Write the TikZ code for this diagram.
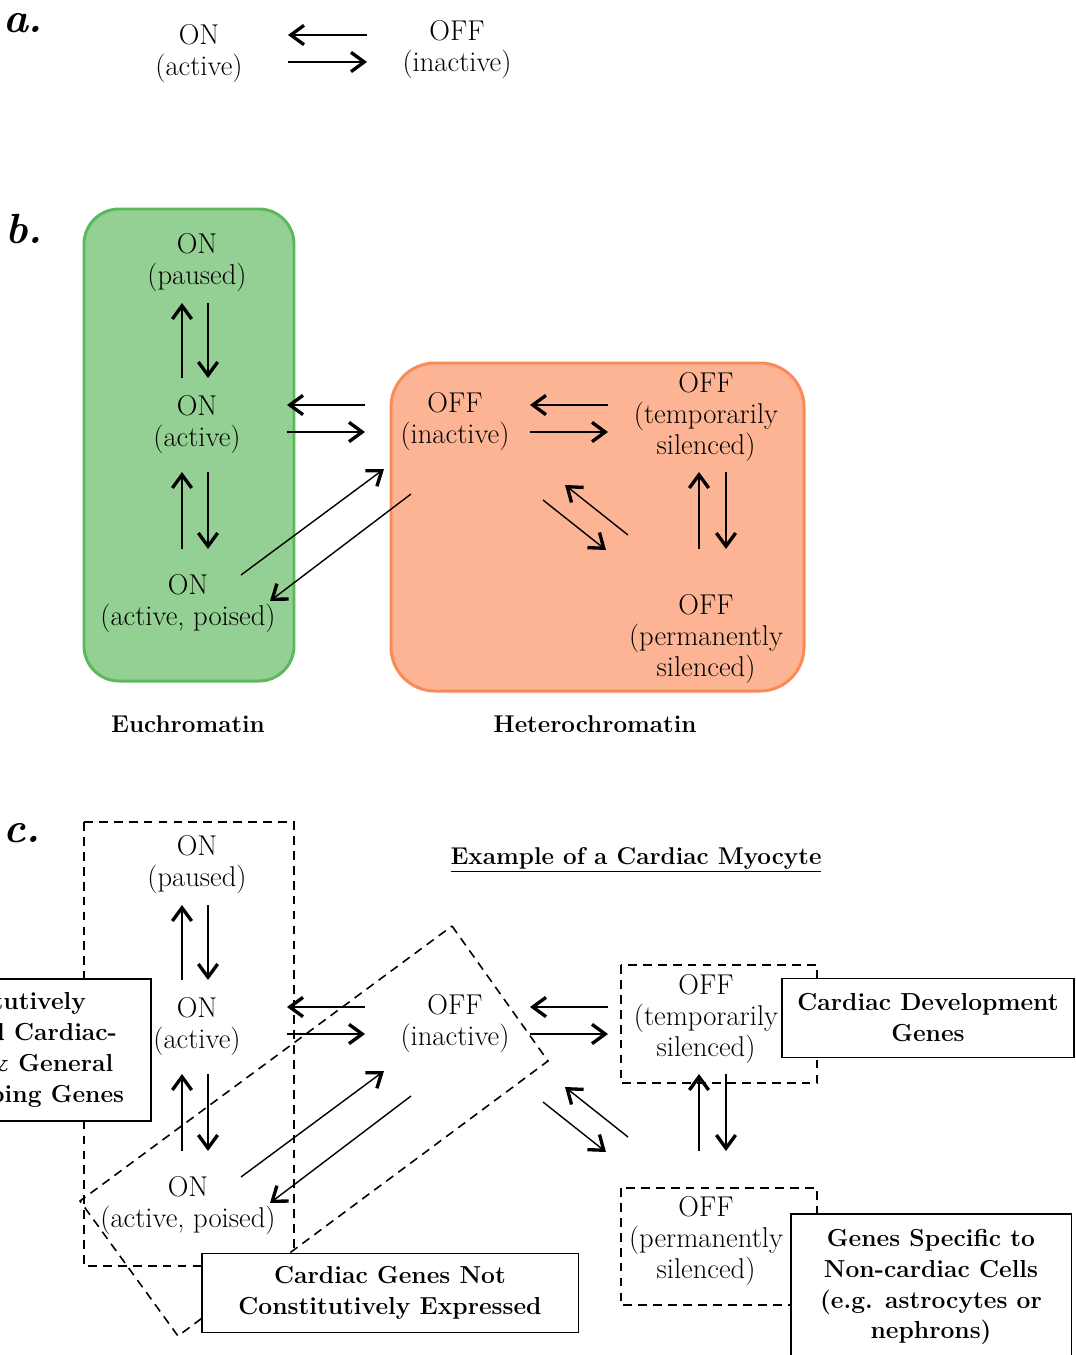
\documentclass[tikz,border=0pt]{standalone}
\usepackage{tikz}
\usetikzlibrary{arrows.meta, positioning, calc}

\definecolor{euchfill}{RGB}{148,208,148}
\definecolor{euchline}{RGB}{92,184,92}
\definecolor{hetfill}{RGB}{253,180,148}
\definecolor{hetline}{RGB}{250,138,88}

\begin{document}
\begin{tikzpicture}[
    x=0.02cm, y=-0.02cm,
    state/.style={
        align=center,
        inner sep=0pt,
        font=\fontsize{16.3}{17.6}\selectfont
    },
    title/.style={
        align=center,
        inner sep=0pt,
        font=\fontsize{13.8}{17.6}\selectfont\bfseries
    },
    genebox/.style={
        rectangle,
        draw,
        fill=white,
        line width=1.1pt,
        align=center,
        inner sep=0pt,
        font=\fontsize{14}{17.6}\selectfont\bfseries
    },
    panel/.style={
        inner sep=0pt,
        font=\fontsize{24}{28}\selectfont\bfseries\itshape
    },
    dashline/.style={dash pattern=on 5pt off 3.5pt, line width=0.9pt},
    arrow/.style={-{Straight Barb[length=7.5pt,width=11pt,line width=1.9pt]}, line width=0.8pt}
]

\useasboundingbox (0,0) rectangle (1075,1355);
\clip (0,0) rectangle (1075,1355);

% ============================================================
%  a.
% ============================================================
\node[panel] (la) at (23,23) {a.};

\node[state] (onacta) at (199,54) {ON\\(active)};
\node[state] (offina) at (457,50) {OFF\\(inactive)};

\draw[arrow] ($(offina)+(-90,-15)$) -- ($(onacta)+(89,-19)$);
\draw[arrow] ($(onacta)+(89,8)$) -- ($(offina)+(-90,12)$);

% ============================================================
%  b.
% ============================================================
\node[panel] (lb) at (24,229) {b.};

% --- Euchromatin / Heterochromatin ---
\draw[euchline, fill=euchfill, line width=1.7pt, rounded corners=20pt] (84,209) rectangle (294,681);
\draw[hetline, fill=hetfill, line width=1.7pt, rounded corners=25pt] (391,363) rectangle (804,691);

\node[title] (euchb) at (188,724) {Euchromatin};
\node[title] (hetb)  at (595,724) {Heterochromatin};

% --- states ---
\node[state] (onpaub)  at (197,263) {ON\\(paused)};
\node[state] (onactb)  at (197,425) {ON\\(active)};
\node[state] (onpoib)  at (188,604) {ON\\(active, poised)};
\node[state] (offinb)  at (455,422) {OFF\\(inactive)};
\node[state] (offtmpb) at (706,417) {OFF\\(temporarily\\silenced)};
\node[state] (offprmb) at (706,639) {OFF\\(permanently\\silenced)};

% --- ON (paused) <-> ON (active) ---
\draw[arrow] ($(onactb)+(-15,-47)$) -- ($(onpaub)+(-15,40)$);
\draw[arrow] ($(onpaub)+(11,40)$) -- ($(onactb)+(11,-47)$);

% --- ON (active) <-> ON (active, poised) ---
\draw[arrow] ($(onpoib)+(-6,-55)$) -- ($(onactb)+(-15,47)$);
\draw[arrow] ($(onactb)+(11,47)$) -- ($(onpoib)+(20,-55)$);

% --- ON (active) <-> OFF (inactive) ---
\draw[arrow] ($(offinb)+(-90,-17)$) -- ($(onactb)+(90,-20)$);
\draw[arrow] ($(onactb)+(90,7)$) -- ($(offinb)+(-90,10)$);

% --- ON (active, poised) <-> OFF (inactive) ---
\draw[arrow] ($(onpoib)+(53,-29)$) -- ($(offinb)+(-71,47)$);
\draw[arrow] ($(offinb)+(-44,72)$) -- ($(onpoib)+(82,-3)$);

% --- OFF (inactive) <-> OFF (temporarily silenced) ---
\draw[arrow] ($(offtmpb)+(-98,-12)$) -- ($(offinb)+(75,-17)$);
\draw[arrow] ($(offinb)+(75,10)$) -- ($(offtmpb)+(-98,15)$);

% --- OFF (inactive) <-> OFF (permanently silenced) ---
\draw[arrow] ($(offprmb)+(-78,-104)$) -- ($(offinb)+(110,63)$);
\draw[arrow] ($(offinb)+(88,78)$) -- ($(offprmb)+(-100,-89)$);

% --- OFF (temporarily) <-> OFF (permanently) ---
\draw[arrow] ($(offprmb)+(-7,-90)$) -- ($(offtmpb)+(-7,55)$);
\draw[arrow] ($(offtmpb)+(20,55)$) -- ($(offprmb)+(20,-90)$);

% ============================================================
%  c.
% ============================================================
\node[panel] (lc) at (22,833) {c.};
\node[title] (myocyte) at (636,860) {\underline{Example of a Cardiac Myocyte}};

% --- states ---
\node[state] (onpauc)  at (197,865)  {ON\\(paused)};
\node[state] (onactc)  at (197,1027) {ON\\(active)};
\node[state] (onpoic)  at (188,1206) {ON\\(active, poised)};
\node[state] (offinc)  at (455,1024) {OFF\\(inactive)};
\node[state] (offtmpc) at (706,1019) {OFF\\(temporarily\\silenced)};
\node[state] (offprmc) at (706,1241) {OFF\\(permanently\\silenced)};

% --- ON (paused) <-> ON (active) ---
\draw[arrow] ($(onactc)+(-15,-47)$) -- ($(onpauc)+(-15,40)$);
\draw[arrow] ($(onpauc)+(11,40)$) -- ($(onactc)+(11,-47)$);

% --- ON (active) <-> ON (active, poised) ---
\draw[arrow] ($(onpoic)+(-6,-55)$) -- ($(onactc)+(-15,47)$);
\draw[arrow] ($(onactc)+(11,47)$) -- ($(onpoic)+(20,-55)$);

% --- ON (active) <-> OFF (inactive) ---
\draw[arrow] ($(offinc)+(-90,-17)$) -- ($(onactc)+(90,-20)$);
\draw[arrow] ($(onactc)+(90,7)$) -- ($(offinc)+(-90,10)$);

% --- ON (active, poised) <-> OFF (inactive) ---
\draw[arrow] ($(onpoic)+(53,-29)$) -- ($(offinc)+(-71,47)$);
\draw[arrow] ($(offinc)+(-44,72)$) -- ($(onpoic)+(82,-3)$);

% --- OFF (inactive) <-> OFF (temporarily silenced) ---
\draw[arrow] ($(offtmpc)+(-98,-12)$) -- ($(offinc)+(75,-17)$);
\draw[arrow] ($(offinc)+(75,10)$) -- ($(offtmpc)+(-98,15)$);

% --- OFF (inactive) <-> OFF (permanently silenced) ---
\draw[arrow] ($(offprmc)+(-78,-104)$) -- ($(offinc)+(110,63)$);
\draw[arrow] ($(offinc)+(88,78)$) -- ($(offprmc)+(-100,-89)$);

% --- OFF (temporarily) <-> OFF (permanently) ---
\draw[arrow] ($(offprmc)+(-7,-90)$) -- ($(offtmpc)+(-7,55)$);
\draw[arrow] ($(offtmpc)+(20,55)$) -- ($(offprmc)+(20,-90)$);

% --- dashed groups ---
\draw[dashline] (84,822) rectangle (294,1266);
\draw[dashline] (452,926) -- (548,1061) -- (178,1336) -- (80,1201) -- cycle;
\draw[dashline] (621,965) rectangle (817,1083);
\draw[dashline] (621,1188) rectangle (817,1305);

% --- gene classes ---
\node[genebox, minimum width=6.04cm, minimum height=2.84cm] (housekeep) at (0,1050)
{Constitutively\\Expressed Cardiac-\\Specific \& General\\Housekeeping Genes};
\node[genebox, minimum width=7.54cm, minimum height=1.58cm] (notconst) at (390,1293)
{Cardiac Genes Not\\Constitutively Expressed};
\node[genebox, minimum width=5.84cm, minimum height=1.58cm] (develop) at (928,1018)
{Cardiac Development\\Genes};
\node[genebox, minimum width=5.62cm, minimum height=2.92cm] (noncard) at (931,1287)
{Genes Specific to\\Non-cardiac Cells\\(e.g. astrocytes or\\nephrons)};

\end{tikzpicture}
\end{document}
